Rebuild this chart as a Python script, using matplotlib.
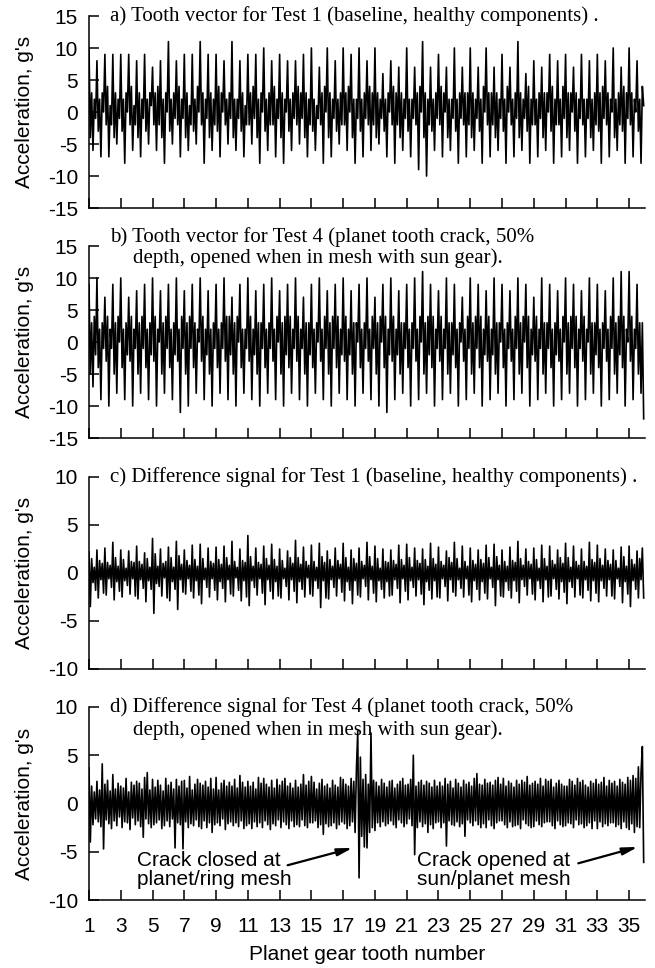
import numpy as np
import matplotlib
matplotlib.use("Agg")
import matplotlib.pyplot as plt

plt.rcParams["font.family"] = ["Liberation Sans", "DejaVu Sans"]
plt.rcParams["axes.unicode_minus"] = False

# 12 samples per planet gear tooth (g's)
samples_per_tooth = 12

tooth_vector_test1 = [
    10, -4, 3, -6, 2, -1, 8, -3, 2, -7, 3, 0,
    9, -2, 4, -7, 1, -2, 9, -4, 3, -5, 2, -1,
    9, -3, 2, -8, 3, 0, 9, -2, 4, -6, 1, -2,
    8, -4, 3, -7, 2, -1, 9, -3, 2, -5, 3, 1,
    7, -2, 3, -6, 4, -2, 8, -4, 2, -8, 3, 0,
    11, -3, 2, -5, 3, -1, 8, -2, 4, -7, 2, -1,
    9, -4, 3, -6, 1, -2, 9, -3, 2, -5, 4, 0,
    11, -2, 3, -8, 2, -1, 9, -4, 3, -6, 2, -2,
    9, -3, 4, -7, 3, 0, 8, -2, 2, -5, 3, -1,
    11, -4, 2, -6, 2, -1, 8, -3, 3, -7, 1, -2,
    9, -2, 3, -5, 4, -1, 9, -4, 2, -8, 3, 0,
    10, -3, 2, -6, 3, -2, 8, -2, 4, -7, 2, -1,
    9, -4, 3, -8, 2, 0, 8, -3, 2, -6, 3, -1,
    8, -2, 4, -5, 3, -1, 9, -4, 3, -7, 2, -2,
    10, -3, 2, -6, 1, -1, 7, -2, 3, -8, 4, 0,
    10, -4, 3, -7, 2, -1, 8, -3, 2, -5, 3, -2,
    10, -2, 3, -6, 4, 0, 9, -4, 2, -8, 2, -1,
    10, -3, 2, -7, 3, -1, 8, -2, 4, -6, 3, -2,
    10, -4, 3, -5, 2, -1, 6, -3, 2, -7, 3, 0,
    8, -2, 4, -8, 3, -2, 7, -4, 3, -6, 2, -1,
    10, -3, 2, -7, 2, -1, 7, -2, 3, -9, 4, 0,
    11, -4, 3, -10, 2, -2, 7, -3, 2, -6, 3, -1,
    9, -2, 4, -7, 3, 0, 7, -4, 2, -6, 2, -1,
    10, -3, 2, -8, 3, -1, 7, -2, 3, -7, 3, -2,
    10, -4, 3, -6, 2, -1, 7, -3, 2, -8, 4, 0,
    10, -2, 3, -7, 3, -2, 7, -4, 3, -6, 2, -1,
    9, -3, 2, -8, 4, 0, 7, -2, 2, -7, 3, -1,
    11, -4, 3, -6, 2, -1, 6, -3, 4, -8, 2, -2,
    8, -2, 2, -7, 3, -1, 7, -4, 3, -6, 3, 0,
    9, -3, 4, -8, 2, -2, 8, -2, 2, -7, 4, -1,
    9, -4, 3, -6, 3, 0, 7, -3, 3, -8, 2, -1,
    9, -2, 2, -7, 2, -1, 8, -4, 2, -6, 3, -2,
    9, -3, 3, -8, 4, -1, 8, -2, 3, -7, 2, 0,
    10, -4, 2, -6, 3, -2, 7, -3, 4, -8, 3, -1,
    10, -2, 3, -7, 2, 0, 8, -3, 2, -8, 4, 1,
]

tooth_vector_test4 = [
    9, -5, 3, -7, 4, -2, 10, -4, 2, -9, 3, -1,
    7, -3, 4, -10, 2, -1, 9, -5, 3, -8, 4, 0,
    10, -4, 2, -9, 3, -2, 7, -3, 4, -10, 2, -1,
    8, -5, 3, -8, 4, -1, 9, -4, 2, -9, 3, -2,
    10, -3, 4, -10, 2, 0, 8, -5, 3, -8, 4, -1,
    9, -4, 2, -9, 3, -2, 10, -3, 2, -11, 4, -1,
    8, -5, 3, -10, 4, -1, 9, -4, 3, -8, 2, 0,
    10, -3, 4, -9, 2, -2, 8, -5, 2, -10, 3, -1,
    9, -4, 2, -8, 3, -1, 10, -3, 4, -9, 4, -2,
    7, -5, 3, -10, 4, 0, 9, -4, 2, -8, 2, -1,
    10, -3, 4, -9, 2, -2, 8, -5, 3, -10, 3, -1,
    9, -4, 2, -8, 3, -1, 10, -3, 2, -9, 4, 0,
    8, -5, 3, -10, 4, -2, 9, -4, 4, -8, 2, -1,
    10, -3, 4, -9, 2, -1, 7, -5, 3, -10, 3, -2,
    9, -4, 2, -8, 3, 0, 10, -3, 2, -9, 4, -1,
    8, -5, 3, -10, 4, -1, 9, -4, 4, -8, 2, -2,
    10, -3, 4, -9, 2, -2, 8, -5, 3, -10, 3, 0,
    9, -4, 2, -8, 3, -1, 10, -3, 2, -9, 4, -1,
    7, -5, 3, -10, 4, 0, 9, -4, 4, -11, 2, -2,
    10, -3, 4, -9, 2, -2, 8, -5, 3, -8, 3, -1,
    9, -4, 2, -10, 3, -1, 10, -3, 2, -9, 4, 0,
    11, -5, 3, -8, 4, -2, 9, -4, 4, -10, 2, -1,
    8, -3, 4, -9, 2, -1, 10, -5, 3, -8, 3, -2,
    9, -4, 2, -10, 3, 0, 7, -3, 2, -9, 4, -1,
    10, -5, 3, -8, 4, -1, 9, -4, 4, -10, 2, -2,
    8, -3, 4, -9, 2, -2, 10, -5, 3, -8, 3, 0,
    9, -4, 2, -10, 3, -1, 8, -3, 2, -9, 4, -1,
    10, -5, 3, -8, 4, 0, 9, -4, 4, -10, 2, -2,
    7, -3, 4, -9, 2, -1, 10, -5, 3, -8, 3, -1,
    9, -4, 2, -10, 3, -2, 8, -3, 2, -9, 4, 0,
    10, -5, 3, -8, 4, -1, 9, -4, 4, -10, 2, -1,
    8, -3, 4, -9, 2, 0, 10, -5, 3, -8, 3, -2,
    9, -4, 2, -10, 3, -1, 8, -3, 2, -9, 4, -1,
    10, -5, 3, -8, 4, -2, 11, -4, 4, -10, 2, 0,
    11, -3, 4, -9, 2, -1, 9, -5, 3, -8, 3, -12,
]

difference_test1 = [
    2.2, -3.5, 1.5, -1.0, 0.6, -1.8, 2.4, -2.6, 1.3, -0.7, 1.0, -2.1,
    2.6, -2.3, 1.1, -0.6, 0.8, -1.5, 3.2, -2.8, 1.6, -0.9, 0.7, -1.9,
    2.4, -2.5, 1.4, -0.8, 0.5, -1.3, 2.3, -2.2, 1.2, -0.6, 1.1, -2.4,
    2.8, -2.7, 1.2, -0.7, 0.9, -1.6, 2.1, -3.0, 1.5, -0.8, 0.6, -1.7,
    3.6, -4.2, 2.0, -1.1, 0.7, -1.4, 2.5, -2.4, 1.0, -0.5, 1.2, -2.6,
    2.7, -2.9, 1.6, -0.9, 0.6, -1.7, 3.3, -3.8, 1.8, -0.7, 0.9, -2.0,
    2.4, -2.2, 1.3, -0.6, 0.8, -1.9, 2.9, -2.6, 1.4, -0.8, 0.7, -2.3,
    3.0, -3.2, 1.5, -0.7, 0.5, -1.5, 2.6, -2.5, 1.2, -0.6, 1.0, -1.8,
    2.7, -2.8, 1.4, -0.9, 0.9, -1.6, 2.8, -3.0, 1.6, -0.7, 0.8, -2.2,
    3.3, -2.4, 1.2, -0.5, 0.6, -1.8, 2.5, -2.9, 1.3, -0.8, 1.1, -2.5,
    3.9, -3.4, 1.7, -0.8, 0.7, -1.5, 2.6, -2.3, 1.1, -0.6, 0.9, -2.1,
    2.8, -3.3, 1.5, -0.7, 0.8, -1.9, 3.0, -2.7, 1.4, -0.9, 0.7, -2.4,
    2.5, -2.6, 1.3, -0.6, 0.5, -1.4, 2.3, -2.8, 1.6, -0.7, 1.0, -1.9,
    3.4, -3.1, 1.6, -0.9, 0.9, -1.7, 2.7, -2.5, 1.2, -0.5, 0.8, -2.2,
    2.9, -2.4, 1.2, -0.8, 0.6, -1.6, 3.1, -3.6, 1.7, -0.8, 1.1, -2.6,
    2.3, -2.7, 1.4, -0.7, 0.7, -1.5, 2.6, -2.4, 1.3, -0.6, 0.9, -2.0,
    3.1, -2.9, 1.6, -0.9, 0.6, -1.8, 2.4, -3.2, 1.5, -0.8, 1.0, -2.3,
    2.6, -2.5, 1.2, -0.6, 0.8, -1.4, 3.2, -2.8, 1.7, -0.7, 0.7, -2.1,
    2.8, -3.0, 1.5, -0.8, 0.5, -1.7, 2.5, -2.6, 1.2, -0.9, 1.1, -2.4,
    2.4, -2.3, 1.3, -0.7, 0.9, -1.6, 2.9, -3.1, 1.4, -0.6, 0.8, -1.9,
    3.0, -2.8, 1.6, -0.8, 0.6, -1.5, 2.6, -2.4, 1.3, -0.7, 1.0, -2.2,
    2.5, -3.3, 1.4, -0.9, 0.7, -1.8, 3.1, -2.7, 1.5, -0.8, 0.9, -2.5,
    2.7, -2.6, 1.2, -0.6, 0.8, -1.4, 2.3, -2.9, 1.6, -0.7, 1.1, -2.0,
    3.2, -2.4, 1.5, -0.7, 0.5, -1.6, 2.8, -2.5, 1.2, -0.6, 0.7, -2.3,
    2.6, -3.0, 1.3, -0.8, 0.9, -1.7, 2.4, -2.8, 1.4, -0.9, 1.0, -2.1,
    2.9, -2.7, 1.6, -0.6, 0.6, -1.5, 3.0, -3.4, 1.7, -0.7, 0.8, -2.4,
    2.4, -2.5, 1.2, -0.9, 0.7, -1.8, 2.7, -2.6, 1.3, -0.8, 1.1, -1.9,
    3.3, -3.1, 1.5, -0.7, 0.8, -1.4, 2.5, -2.3, 1.2, -0.6, 0.9, -2.2,
    2.6, -2.8, 1.4, -0.8, 0.5, -1.6, 2.9, -3.0, 1.5, -0.7, 0.7, -2.5,
    2.8, -2.4, 1.3, -0.6, 0.9, -1.7, 2.4, -2.7, 1.6, -0.9, 1.0, -2.0,
    3.1, -3.2, 1.6, -0.9, 0.6, -1.5, 2.8, -2.5, 1.2, -0.6, 0.8, -2.3,
    2.5, -2.6, 1.2, -0.7, 0.7, -1.8, 3.2, -2.9, 1.4, -0.8, 1.1, -2.1,
    2.9, -3.0, 1.5, -0.8, 0.8, -1.6, 2.5, -2.4, 1.3, -0.7, 0.9, -2.4,
    2.4, -2.7, 1.3, -0.6, 0.5, -1.4, 2.7, -3.1, 1.7, -0.9, 0.7, -2.2,
    2.8, -3.5, 1.4, -0.8, 0.9, -1.7, 2.3, -2.6, 1.5, -0.7, 2.6, -2.6,
]

difference_test4 = [
    3.7, -4.0, 1.8, -2.2, 1.2, -1.6, 2.3, -1.9, 1.4, -2.4, 4.1, -4.7,
    2.0, -1.7, 2.4, -2.1, 1.3, -2.6, 3.0, -1.8, 1.5, -2.3, 2.1, -1.4,
    1.8, -2.5, 1.6, -1.9, 2.6, -2.0, 1.2, -2.7, 2.2, -1.5, 1.9, -2.2,
    2.3, -1.8, 2.1, -2.4, 1.5, -3.5, 2.7, -1.6, 3.2, -2.1, 1.4, -2.5,
    2.5, -2.2, 1.7, -2.0, 2.4, -1.7, 1.9, -2.6, 1.3, -2.3, 2.6, -1.8,
    1.9, -2.4, 2.2, -1.6, 1.5, -4.6, 2.5, -2.0, 1.8, -2.2, 2.3, -4.7,
    2.4, -1.9, 1.6, -2.5, 2.8, -2.1, 1.4, -2.3, 2.0, -1.7, 2.5, -2.4,
    2.1, -2.6, 1.9, -1.8, 2.3, -2.5, 1.7, -2.0, 2.6, -3.0, 1.5, -2.2,
    2.7, -2.0, 1.4, -2.3, 2.1, -1.6, 2.4, -2.7, 1.8, -2.1, 2.2, -1.9,
    1.8, -2.3, 2.5, -2.0, 1.6, -2.4, 2.9, -1.8, 2.2, -2.6, 1.7, -2.3,
    2.3, -2.1, 1.8, -2.6, 2.2, -1.9, 1.5, -2.4, 2.7, -2.0, 2.1, -2.5,
    2.6, -1.8, 2.0, -2.2, 1.7, -2.7, 2.4, -2.1, 1.6, -2.3, 2.5, -1.7,
    1.9, -2.5, 2.3, -1.9, 2.6, -2.2, 1.8, -2.6, 2.1, -1.8, 1.6, -2.4,
    2.4, -2.2, 1.7, -2.4, 2.0, -1.7, 3.0, -2.3, 1.9, -2.5, 2.3, -2.0,
    2.8, -2.0, 2.2, -1.8, 1.5, -2.5, 2.1, -2.2, 2.5, -3.2, 1.8, -2.1,
    2.0, -2.4, 1.6, -2.3, 2.4, -2.0, 1.9, -2.6, 1.7, -2.2, 2.7, -1.9,
    2.5, -2.1, 2.0, -2.6, 1.8, -2.3, 2.6, -1.9, 2.3, -3.0, 3.5, 7.5,
    -7.7, 4.8, -3.4, 2.5, -4.5, 3.0, -4.6, 2.0, -3.0, 7.3, -2.5, 2.4,
    -2.8, 2.2, -2.0, 1.8, -2.4, 2.5, -1.9, 2.1, -2.3, 1.7, -2.1, 2.3,
    -1.8, 2.4, -2.2, 1.6, -2.5, 2.0, -1.7, 2.3, -2.0, 2.6, -2.4, 1.9,
    -2.1, 2.0, -1.6, 2.5, -2.3, 5.0, -5.3, 1.8, -2.5, 2.2, -1.9, 2.4,
    -2.4, 1.9, -2.1, 2.3, -3.0, 2.1, -2.2, 1.7, -2.6, 2.4, -2.0, 1.8,
    -1.9, 2.2, -2.5, 1.8, -2.0, 2.6, -4.4, 2.0, -1.8, 2.3, -2.2, 1.6,
    -2.3, 2.5, -1.9, 2.1, -2.4, 1.7, -2.1, 2.4, -3.4, 2.0, -1.7, 2.2,
    -2.0, 1.8, -2.3, 2.6, -1.8, 3.1, -2.2, 2.0, -2.5, 1.9, -2.1, 2.5,
    -2.5, 2.1, -1.7, 2.2, -2.3, 1.9, -2.6, 2.4, -2.0, 2.7, -1.8, 2.0,
    -1.8, 2.6, -2.2, 1.8, -2.5, 2.3, -1.9, 2.1, -2.4, 1.7, -2.3, 2.4,
    -2.2, 2.0, -2.6, 2.4, -1.7, 2.2, -2.1, 2.8, -2.3, 1.9, -2.5, 2.1,
    -2.4, 2.3, -1.8, 2.0, -2.2, 2.6, -2.4, 1.8, -2.0, 2.5, -1.9, 2.3,
    -1.9, 2.5, -2.3, 1.7, -2.6, 2.1, -1.8, 2.4, -2.2, 2.0, -2.4, 1.8,
    -2.3, 1.8, -2.0, 2.5, -2.1, 2.3, -2.5, 1.9, -1.7, 2.6, -2.2, 2.2,
    -2.1, 2.4, -2.5, 1.9, -2.3, 1.7, -2.0, 2.3, -2.6, 2.1, -1.8, 2.5,
    -2.6, 2.0, -1.9, 2.2, -2.4, 2.7, -2.1, 1.8, -2.3, 2.4, -2.0, 2.1,
    -2.0, 2.3, -2.4, 1.8, -2.2, 2.5, -2.6, 2.2, -1.9, 2.0, -2.5, 2.7,
    -2.7, 2.4, -2.1, 2.9, -3.0, 2.6, -2.4, 3.8, -2.5, 3.2, 5.9, -6.1,
]

panel_titles = [
    ["a) Tooth vector for Test 1 (baseline, healthy components) ."],
    ["b) Tooth vector for Test 4 (planet tooth crack, 50%",
     "depth, opened when in mesh with sun gear)."],
    ["c) Difference signal for Test 1 (baseline, healthy components) ."],
    ["d) Difference signal for Test 4 (planet tooth crack, 50%",
     "depth, opened when in mesh with sun gear)."],
]
panel_signals = [tooth_vector_test1, tooth_vector_test4, difference_test1, difference_test4]
panel_ylims = [(-15, 15), (-15, 15), (-10, 10), (-10, 10)]
tooth_ticks = list(range(1, 36, 2))

W, H = 655, 968


def fx(px):
    return px / W


def fy(py):
    return 1 - py / H


# axes top / bottom in pixels, left 89 right 645
frames = [(16, 208), (246, 438), (477, 669), (707, 900)]
title_rows = [[16], [237, 258], [477], [707, 730]]

fig = plt.figure(figsize=(W / 100, H / 100), dpi=100)
serif = ["Liberation Serif", "DejaVu Serif"]

axes = []
for i, (top, bot) in enumerate(frames):
    ax = fig.add_axes([fx(89), fy(bot), fx(645) - fx(89), (bot - top) / H])
    vals = np.array(panel_signals[i], dtype=float)
    x = 1 + np.arange(len(vals)) / samples_per_tooth
    ax.plot(x, vals, color="black", lw=1.2)
    lo, hi = panel_ylims[i]
    ax.set_ylim(lo, hi)
    ax.set_xlim(1, 36)
    ax.set_yticks(range(lo, hi + 1, 5))
    ax.set_xticks(tooth_ticks)
    ax.spines["top"].set_visible(False)
    ax.spines["right"].set_visible(False)
    for s in ["left", "bottom"]:
        ax.spines[s].set_linewidth(1.1)
    ax.tick_params(axis="both", direction="in", length=7, width=1.1, labelsize=15)
    ax.tick_params(axis="y", pad=8)
    ax.tick_params(axis="x", pad=12)
    if i < 3:
        ax.tick_params(axis="x", labelbottom=False)
    fig.text(fx(25), fy((top + bot) / 2), "Acceleration, g's", rotation=90,
             ha="center", va="center", fontsize=15)
    for j, line in enumerate(panel_titles[i]):
        fig.text(fx(110 if j == 0 else 133), fy(title_rows[i][j]), line,
                 ha="left", va="center", fontsize=15, family=serif)
    axes.append(ax)

fig.text(fx(367), fy(955), "Planet gear tooth number", ha="center", va="center", fontsize=15)

axd = axes[3]
axd.text(4.0, -6.85, "Crack closed at\nplanet/ring mesh", ha="left", va="center",
         fontsize=15, linespacing=1.0)
axd.text(21.65, -6.85, "Crack opened at\nsun/planet mesh", ha="left", va="center",
         fontsize=15, linespacing=1.0)
arrow = dict(arrowstyle="-|>,head_length=0.9,head_width=0.22", color="black", lw=1.6,
             shrinkA=0, shrinkB=0)
axd.annotate("", xy=(17.6, -4.6), xytext=(13.5, -6.4), arrowprops=arrow)
axd.annotate("", xy=(35.55, -4.5), xytext=(31.8, -6.2), arrowprops=arrow)

fig.savefig("out.png", dpi=100)
